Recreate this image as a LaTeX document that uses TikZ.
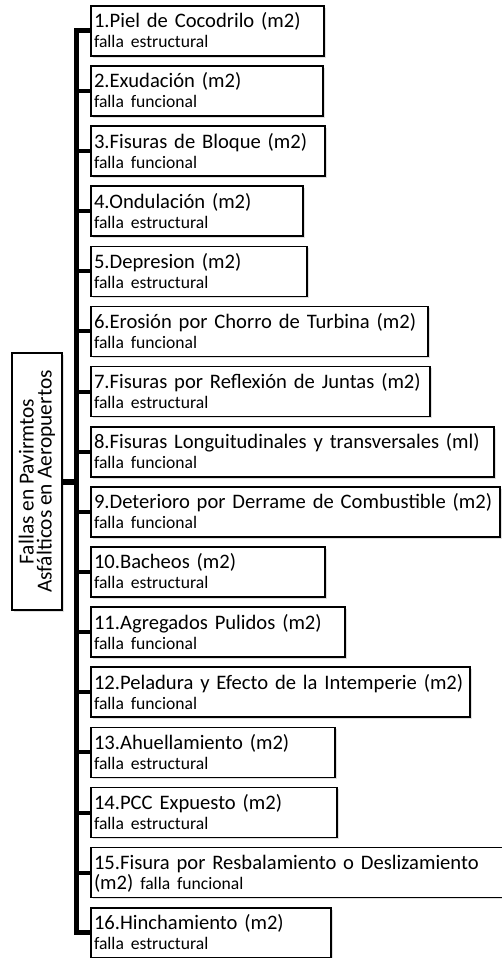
\documentclass[tikz,border=0pt]{standalone}
\usepackage{fontspec}
\setmainfont{Carlito}
\usetikzlibrary{shadows}

\newcommand{\titlefont}{\fontsize{10.3}{10}\selectfont}
\newcommand{\kindfont}{\fontsize{8.8}{10}\selectfont}

\tikzset{
  falla/.style={draw=black, line width=0.8pt, fill=white, anchor=north west,
    drop shadow={shadow xshift=0.9pt, shadow yshift=-0.9pt, opacity=0.25},
    inner xsep=1.6pt, inner ysep=0pt, align=left,
    text height=11pt, text depth=14pt, font=\titlefont},
  trunk/.style={line width=2.6pt},
  branch/.style={line width=2pt}
}

\begin{document}
\begin{tikzpicture}[x=0.5pt, y=-0.5pt]
  \useasboundingbox (0, 0) rectangle (502, 958);

  \node[draw=black, line width=0.8pt, fill=white, rotate=90, inner sep=0pt,
    drop shadow={shadow xshift=0.9pt, shadow yshift=-0.9pt, opacity=0.25},
    minimum width=128.5pt, minimum height=25pt, align=center,
    font=\fontsize{10.7}{9}\selectfont] (root) at (37, 481.5)
    {Fallas en Pavirmtos\\Asfálticos en Aeropuertos};

  % the sixteen kinds of failure
  \foreach \n/\r/\t/\k in {
      1/323/{Piel de Cocodrilo (m2)}/{falla estructural},
      2/322/{Exudación (m2)}/{falla funcional},
      3/324/{Fisuras de Bloque (m2)}/{falla funcional},
      4/302/{Ondulación (m2)}/{falla estructural},
      5/306/{Depresion (m2)}/{falla estructural},
      6/427/{Erosión por Chorro de Turbina (m2)}/{falla funcional},
      7/429/{Fisuras por Reflexión de Juntas (m2)}/{falla estructural},
      8/493/{Fisuras Longuitudinales y transversales (ml)}/{falla funcional},
      9/499/{Deterioro por Derrame de Combustible (m2)}/{falla funcional},
      10/324/{Bacheos (m2)}/{falla estructural},
      11/344/{Agregados Pulidos (m2)}/{falla funcional},
      12/469/{Peladura y Efecto de la Intemperie (m2)}/{falla funcional},
      13/334/{Ahuellamiento (m2)}/{falla estructural},
      14/336/{PCC Expuesto (m2)}/{falla estructural},
      15/508/{Fisura por Resbalamiento o Deslizamiento}/{{\titlefont (m2)} falla funcional},
      16/330/{Hinchamiento (m2)}/{falla estructural}} {
    \pgfmathsetmacro{\w}{(\r - 90)*0.5 - 3.2}
    \pgfmathsetmacro{\y}{5 + (\n - 1)*60.13}
    \node[falla, text width=\w pt] (b\n) at (90, \y)
      {\mbox{\n.\t}\\\mbox{\kindfont \k}};
  }

  \coordinate (spine) at (76.5, 481.5);
  \draw[line width=3pt] (root.south) -- (spine);
  \draw[trunk] (b1.west) -| (spine) |- (b16.west);
  \foreach \n in {2,...,15}
    \draw[branch] (b\n.west) -- (b\n.west -| spine);
\end{tikzpicture}
\end{document}
